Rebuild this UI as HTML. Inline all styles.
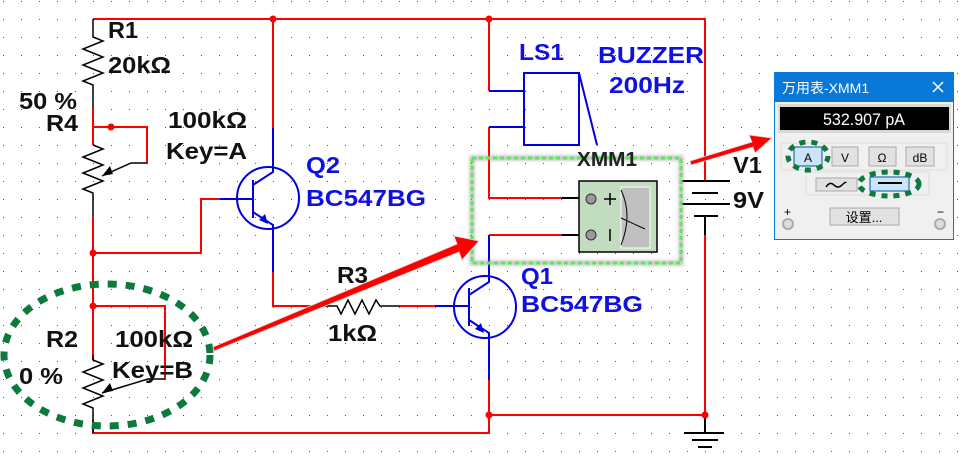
<!DOCTYPE html>
<html><head><meta charset="utf-8"><style>
html,body{margin:0;padding:0;background:#fff;}
svg{display:block;font-family:"Liberation Sans","Noto Sans CJK SC",sans-serif;}
.t{font-weight:bold;font-size:23px;fill:#111;}
.b{font-weight:bold;font-size:23px;fill:#1010e0;}
</style></head><body>
<svg width="973" height="465" viewBox="0 0 973 465" xmlns="http://www.w3.org/2000/svg">
<defs>
<pattern id="g" width="18" height="18" patternUnits="userSpaceOnUse" x="3" y="1"><rect x="0" y="0" width="1" height="1" fill="#555"/></pattern>
<filter id="sh"><feGaussianBlur stdDeviation="1.5"/></filter>
</defs>
<rect width="973" height="465" fill="#fff"/>
<rect width="973" height="465" fill="url(#g)"/>
<g fill="none" stroke-width="2">
<path d="M93 19H705V180M705 235V415M489 415H705M489 414V433H93V420" stroke="#f00"/>
<path d="M273 19V128" stroke="#f00"/>
<path d="M489 19V91M489 127V198H562" stroke="#f00"/>
<path d="M489 235H562M489 415V380" stroke="#f00"/>
<path d="M93 108V145M93 127H147V163" stroke="#f00"/>
<path d="M93 217V360M93 253H201V199H220M93 306H165V379" stroke="#f00"/>
<path d="M273 272V306H310M400 306H435" stroke="#f00"/>
<path d="M93 19V37l10 4-20 8 20 8-20 8 20 8-20 8 10 4V108" stroke="#000" stroke-width="1.5"/>
<path d="M93 145l10 4-20 8 20 8-20 8 20 8-20 8 10 4V217" stroke="#000" stroke-width="1.5"/>
<path d="M93 355v5l10 4-20 8 20 8-20 8 20 8-20 8 10 4V433" stroke="#000" stroke-width="1.5"/>
<path d="M147 163H131L102 176M165 379H148L102 393" stroke="#000" stroke-width="1.5"/>
<path d="M310 306H337l4 8 7-14 7 14 7-14 7 14 7-14 4 6H400" stroke="#000" stroke-width="1.5"/>
<path d="M562 198H591M562 235H591" stroke="#000" stroke-width="2"/>
<path d="M705 180V181M681 181H730M692 193H718M681 204H730M694 216H718M705 216V235" stroke="#000" stroke-width="2"/>
<path d="M705 415V433M684 433H724M692 440H718M698 447H712" stroke="#000" stroke-width="2"/>
<g stroke="#0000e0">
<circle cx="268" cy="198" r="31"/>
<path d="M220 199H253M253 180V218M273 128V172L253 185M253 212L273 225V272"/>
<circle cx="485" cy="307" r="31"/>
<path d="M435 306H469M469 288V326M489 235V282L469 295M469 320L489 333V380"/>
<path d="M489 91H524M489 127H524M524 73H579V145H524ZM579 73L597 145"/>
</g>
</g>
<path d="M102 176l8-10 3 8z M102 393l8-10 3 8z" fill="#000"/>
<path d="M268 224l-9-4 6-6z M484 333l-9-4 6-6z" fill="#0000e0"/>
<g fill="#f00"><circle cx="273" cy="19" r="3.5"/><circle cx="489" cy="19" r="3.5"/><circle cx="111" cy="127" r="3.5"/><circle cx="93" cy="253" r="3.5"/><circle cx="93" cy="306" r="3.5"/><circle cx="489" cy="415" r="3.5"/><circle cx="705" cy="415" r="3.5"/></g>
<rect x="579" y="181" width="78" height="71" fill="#c2dcc0" stroke="#000" stroke-width="1.5"/>
<rect x="621" y="187" width="29" height="61" fill="#c0c0c0" stroke="#fff"/>
<path d="M621 190q12 25 0 55M621 218L645 229" fill="none" stroke="#000"/>
<circle cx="591" cy="199" r="5" fill="#999" stroke="#333"/><circle cx="591" cy="235" r="5" fill="#999" stroke="#333"/>
<path d="M604 199h12M610 193v12M610 229v12" stroke="#000" stroke-width="1.5"/>
<rect x="472" y="158" width="209" height="105" fill="none" stroke="#888" stroke-width="5" opacity=".5" filter="url(#sh)"/>
<rect x="472" y="158" width="209" height="105" fill="none" stroke="#5be85b" stroke-width="3" stroke-dasharray="4 3"/>
<g lengthAdjust="spacingAndGlyphs">
<text class="t" x="108" y="38" textLength="30" lengthAdjust="spacingAndGlyphs">R1</text>
<text class="t" x="108" y="73" textLength="63" lengthAdjust="spacingAndGlyphs">20kΩ</text>
<text class="t" x="19" y="109" textLength="58" lengthAdjust="spacingAndGlyphs">50 %</text>
<text class="t" x="46" y="131" textLength="32" lengthAdjust="spacingAndGlyphs">R4</text>
<text class="t" x="168" y="128" textLength="79" lengthAdjust="spacingAndGlyphs">100kΩ</text>
<text class="t" x="166" y="159" textLength="81" lengthAdjust="spacingAndGlyphs">Key=A</text>
<text class="b" x="306" y="173" textLength="34" lengthAdjust="spacingAndGlyphs">Q2</text>
<text class="b" x="306" y="206" textLength="120" lengthAdjust="spacingAndGlyphs">BC547BG</text>
<text class="t" x="337" y="283" textLength="31" lengthAdjust="spacingAndGlyphs">R3</text>
<text class="t" x="328" y="341" textLength="49" lengthAdjust="spacingAndGlyphs">1kΩ</text>
<text class="t" x="46" y="347" textLength="32" lengthAdjust="spacingAndGlyphs">R2</text>
<text class="t" x="115" y="347" textLength="78" lengthAdjust="spacingAndGlyphs">100kΩ</text>
<text class="t" x="112" y="378" textLength="81" lengthAdjust="spacingAndGlyphs">Key=B</text>
<text class="t" x="19" y="384" textLength="44" lengthAdjust="spacingAndGlyphs">0 %</text>
<text class="b" x="519" y="60" textLength="45" lengthAdjust="spacingAndGlyphs">LS1</text>
<text class="b" x="598" y="63" textLength="106" lengthAdjust="spacingAndGlyphs">BUZZER</text>
<text class="b" x="609" y="93" textLength="76" lengthAdjust="spacingAndGlyphs">200Hz</text>
<text x="577" y="166" font-size="20" font-weight="bold" fill="#222" textLength="60" lengthAdjust="spacingAndGlyphs">XMM1</text>
<text class="t" x="733" y="173" textLength="29" lengthAdjust="spacingAndGlyphs">V1</text>
<text class="t" x="733" y="208" textLength="31" lengthAdjust="spacingAndGlyphs">9V</text>
<text class="b" x="521" y="284" textLength="32" lengthAdjust="spacingAndGlyphs">Q1</text>
<text class="b" x="521" y="312" textLength="122" lengthAdjust="spacingAndGlyphs">BC547BG</text>
</g>
<ellipse cx="107" cy="355" rx="103" ry="71" fill="none" stroke="#0b7a3c" stroke-width="7" stroke-dasharray="9 9"/>
<path d="M213 347L457 244l-3-8 25 5-17 19-3-8L214 351z" fill="#f00" stroke="#ddd" stroke-width="0.8"/>
<path d="M690 161L752 142l-3-7 23 3-17 15-2-6L691 165z" fill="#f00" stroke="#ddd" stroke-width="0.8"/>
<rect x="774.5" y="72.5" width="179" height="167" fill="#f0f0f0" stroke="#0a78d7"/>
<rect x="775" y="73" width="178" height="29" fill="#0a78d7"/>
<text x="782" y="93" font-size="14" fill="#fff">万用表-XMM1</text>
<path d="M933 82l10 10M943 82l-10 10" stroke="#fff" stroke-width="1.5"/>
<rect x="778" y="104" width="173" height="29" fill="#d8d8d8"/>
<rect x="780" y="107" width="169" height="23" fill="#000"/>
<text x="864" y="125" font-size="17" fill="#fff" text-anchor="middle" textLength="82" lengthAdjust="spacingAndGlyphs">532.907 pA</text>
<rect x="781" y="143" width="166" height="27" fill="none" stroke="#ddd"/>
<rect x="794" y="147" width="28" height="19" fill="#cce4f7" stroke="#005499"/>
<text x="808" y="162" font-size="12" text-anchor="middle">A</text>
<rect x="832" y="147" width="26" height="19" fill="#e1e1e1" stroke="#aaa"/><text x="845" y="162" font-size="12" text-anchor="middle">V</text>
<rect x="869" y="147" width="27" height="19" fill="#e1e1e1" stroke="#aaa"/><text x="882" y="162" font-size="12" text-anchor="middle">Ω</text>
<rect x="906" y="147" width="28" height="19" fill="#e1e1e1" stroke="#aaa"/><text x="920" y="162" font-size="12" text-anchor="middle">dB</text>
<rect x="806" y="172" width="123" height="23" fill="none" stroke="#ddd"/>
<rect x="816" y="178" width="41" height="13" fill="#e1e1e1" stroke="#aaa"/>
<path d="M826 187q4-6 8-2t8 0 4-2" fill="none" stroke="#000" stroke-width="1.5"/>
<rect x="870" y="177" width="39" height="14" fill="#cce4f7" stroke="#005499"/>
<path d="M878 183h24" stroke="#000" stroke-width="2"/>
<rect x="830" y="208" width="69" height="17" fill="#e1e1e1" stroke="#aaa"/>
<text x="864" y="222" font-size="13" text-anchor="middle">设置...</text>
<text x="784" y="216" font-size="12">+</text><text x="937" y="216" font-size="12">−</text>
<circle cx="788" cy="224" r="5" fill="#ddd" stroke="#aaa" stroke-width="2"/>
<circle cx="940" cy="224" r="5" fill="#ddd" stroke="#aaa" stroke-width="2"/>
<ellipse cx="808" cy="156" rx="20" ry="14" fill="none" stroke="#0b7a3c" stroke-width="5" stroke-dasharray="6 6"/>
<ellipse cx="889" cy="184" rx="30" ry="12" fill="none" stroke="#0b7a3c" stroke-width="5" stroke-dasharray="6 6"/>
</svg>
</body></html>
